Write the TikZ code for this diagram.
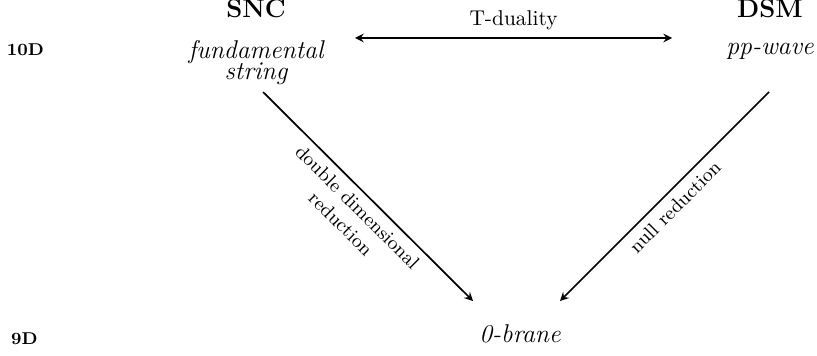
\documentclass[tikz,border=0pt]{standalone}
\usetikzlibrary{arrows}

\begin{document}
\begin{tikzpicture}
	\useasboundingbox (0,0) rectangle (13.419,5.847);

	\node[anchor=base] (d10) at (.419,4.928){\footnotesize\bfseries 10D};
	\node[anchor=base] (d9) at (.402,.181){\footnotesize\bfseries 9D};

	\node[anchor=base] (snc) at (4.205,5.552){\large\bfseries SNC};
	\node[anchor=base] (dsm) at (12.647,5.552){\large\bfseries DSM};

	\node[anchor=base, align=center, font=\large\itshape] (fstring) at (4.205,4.533){fundamental\\[-4pt] string};
	\node[anchor=base] (ppwave) at (12.647,4.944){\large\itshape pp-wave};
	\node[anchor=base] (brane) at (8.541,.2135){\large\itshape 0-brane};

	\coordinate (tl) at (5.831,5.223);
	\coordinate (tr) at (11.038,5.223);
	\coordinate (ls) at (4.320,4.336);
	\coordinate (le) at (7.769,.903);
	\coordinate (rs) at (12.631,4.336);
	\coordinate (re) at (9.198,.903);

	\draw[thick, stealth-stealth] (tl) -- node[above]{T-duality} (tr);
	\draw[thick, -stealth] (ls) -- node[sloped, below, align=center, font=\small]{double dimensional\\ reduction} (le);
	\draw[thick, -stealth] (rs) -- node[sloped, below, font=\small]{null reduction} (re);
\end{tikzpicture}
\end{document}
